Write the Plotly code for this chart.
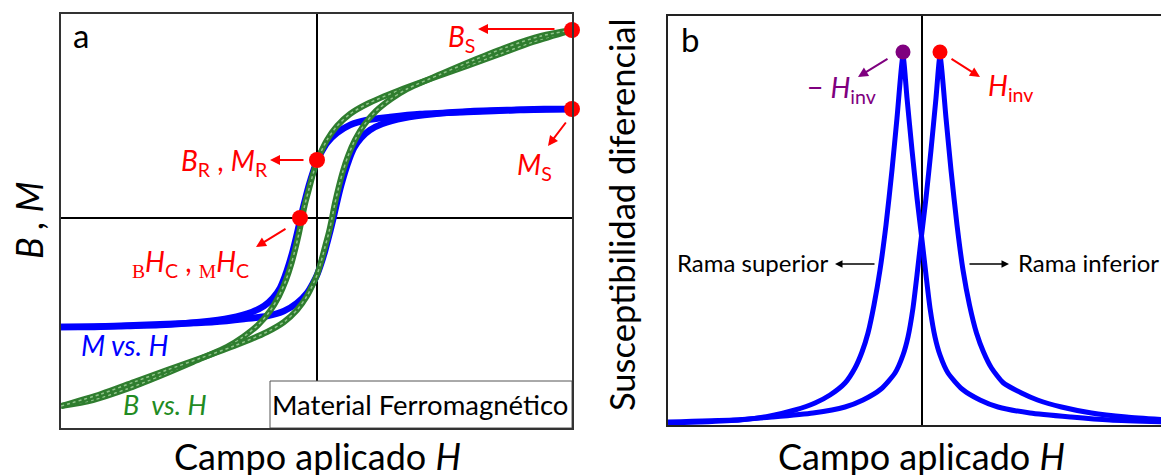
import plotly.graph_objects as go

# The page body has an 8px default margin, so the figure is 8px smaller and
# all reference pixel positions are shifted by that amount.
OFF = 8
W, H = 1169 - OFF, 475 - OFF
FONT = "Lato"

def px(xp):
    return (xp - OFF) / W

def py(yp):
    return 1 - (yp - OFF) / H

# ---------------- Panel a data (arbitrary units) ----------------
H_m_dec = [2.55, 2.03, 1.50, 1.03, 0.73, 0.50, 0.33, 0.20, 0.10, 0.04, 0.00, -0.04, -0.08, -0.12, -0.15,
           -0.18, -0.21, -0.24, -0.28, -0.32, -0.37, -0.44, -0.53, -0.65, -0.87, -1.17, -1.57, -1.90,
           -2.27, -2.56]
M_dec = [1.09, 1.08, 1.06, 1.04, 1.01, 0.98, 0.93, 0.85, 0.75, 0.65, 0.57, 0.46, 0.33, 0.18, 0.06,
         -0.07, -0.20, -0.32, -0.46, -0.58, -0.70, -0.80, -0.88, -0.94, -1.00, -1.04, -1.07, -1.08,
         -1.09, -1.09]
H_m_inc = [-2.56, -2.03, -1.50, -1.03, -0.73, -0.50, -0.33, -0.20, -0.10, -0.04, 0.00, 0.04, 0.08, 0.12, 0.15,
           0.18, 0.21, 0.24, 0.28, 0.32, 0.37, 0.44, 0.53, 0.65, 0.87, 1.17, 1.57, 1.90, 2.27, 2.55]
M_inc = [-1.09, -1.08, -1.06, -1.04, -1.01, -0.98, -0.93, -0.85, -0.75, -0.65, -0.57, -0.46, -0.33, -0.18, -0.06,
         0.07, 0.20, 0.32, 0.46, 0.58, 0.70, 0.80, 0.88, 0.94, 1.00, 1.04, 1.07, 1.08, 1.09, 1.09]

H_b_dec = [2.55, 2.16, 1.83, 1.50, 1.16, 0.83, 0.50, 0.33, 0.20, 0.10, 0.03, 0.00, -0.04, -0.08, -0.12,
           -0.15, -0.18, -0.22, -0.26, -0.31, -0.38, -0.47, -0.59, -0.74, -0.90, -1.24, -1.57, -1.90,
           -2.24, -2.56]
B_dec = [1.88, 1.76, 1.64, 1.52, 1.40, 1.28, 1.14, 1.04, 0.92, 0.78, 0.64, 0.57, 0.44, 0.29, 0.14,
         0.00, -0.15, -0.32, -0.47, -0.62, -0.78, -0.93, -1.07, -1.19, -1.29, -1.44, -1.58, -1.71,
         -1.82, -1.88]
H_b_inc = [-2.56, -2.16, -1.83, -1.50, -1.16, -0.83, -0.50, -0.33, -0.20, -0.10, -0.03, 0.00, 0.04, 0.08, 0.12,
           0.15, 0.18, 0.22, 0.26, 0.31, 0.38, 0.47, 0.59, 0.74, 0.90, 1.24, 1.57, 1.90, 2.24, 2.55]
B_inc = [-1.88, -1.76, -1.64, -1.52, -1.40, -1.28, -1.14, -1.04, -0.92, -0.78, -0.64, -0.57, -0.44, -0.29, -0.14,
         0.00, 0.15, 0.32, 0.47, 0.62, 0.78, 0.93, 1.07, 1.19, 1.29, 1.44, 1.58, 1.71, 1.82, 1.88]

# key points: B_S, M_S, B_R/M_R, H_C
key_H = [2.55, 2.55, 0.00, -0.17]
key_val = [1.88, 1.09, 0.58, 0.00]

# ---------------- Panel b data ----------------
H_sup = [-2.535, -2.215, -1.815, -1.515, -1.265, -1.065, -0.915, -0.765, -0.665, -0.595, -0.535, -0.475,
         -0.415, -0.355, -0.295, -0.245, -0.185,
         -0.145, -0.095, -0.045, 0.005, 0.045, 0.085, 0.135, 0.185, 0.265, 0.405, 0.585, 0.765, 1.085,
         1.495, 1.885, 2.475]
chi_sup = [0.02, 0.03, 0.05, 0.09, 0.15, 0.22, 0.30, 0.42, 0.57, 0.73, 0.92, 1.20,
           1.55, 2.00, 2.55, 3.07, 3.69,
           3.27, 2.75, 2.27, 1.85, 1.50, 1.17, 0.88, 0.70, 0.52, 0.36, 0.25, 0.18, 0.12,
           0.08, 0.05, 0.03]
H_inf = [-2.535, -1.885, -1.495, -1.085, -0.765, -0.585, -0.405, -0.265, -0.185, -0.135, -0.085, -0.045,
         -0.005, 0.045, 0.095, 0.145, 0.185,
         0.245, 0.295, 0.355, 0.415, 0.48, 0.55, 0.62, 0.70, 0.82, 1.00, 1.16, 1.40, 1.70, 2.05, 2.475]
chi_inf = [0.03, 0.05, 0.08, 0.12, 0.18, 0.25, 0.36, 0.52, 0.70, 0.88, 1.17, 1.50,
           1.85, 2.27, 2.75, 3.27, 3.69,
           3.07, 2.55, 2.00, 1.55, 1.20, 0.92, 0.73, 0.57, 0.42, 0.32, 0.25, 0.18, 0.12, 0.08, 0.05]

Hinv_neg, Hinv_pos = -0.185, 0.185
peak_dot = 3.73

BLUE = "#0000ff"
GREEN_D = "#2f7d2f"
GREEN_L = "#a9d8a2"
RED = "#ff0000"
PURPLE = "#7f007f"

fig = go.Figure()

# panel a curves
for hx, my in [(H_m_dec, M_dec), (H_m_inc, M_inc)]:
    fig.add_trace(go.Scatter(x=hx, y=my, mode="lines", xaxis="x", yaxis="y",
                             line=dict(color=BLUE, width=6.5, shape="spline", smoothing=0.8),
                             hoverinfo="skip"))
for hx, by in [(H_b_dec, B_dec), (H_b_inc, B_inc)]:
    fig.add_trace(go.Scatter(x=hx, y=by, mode="lines", xaxis="x", yaxis="y",
                             line=dict(color=GREEN_D, width=6, shape="spline", smoothing=0.8),
                             hoverinfo="skip"))
    fig.add_trace(go.Scatter(x=hx, y=by, mode="lines", xaxis="x", yaxis="y",
                             line=dict(color=GREEN_L, width=1.5, dash="dot", shape="spline", smoothing=0.8),
                             opacity=0.8, hoverinfo="skip"))
fig.add_trace(go.Scatter(x=key_H, y=key_val, mode="markers", xaxis="x", yaxis="y", cliponaxis=False,
                         marker=dict(color=RED, size=16), hoverinfo="skip"))

# panel b curves
for hx, cy in [(H_sup, chi_sup), (H_inf, chi_inf)]:
    fig.add_trace(go.Scatter(x=hx, y=cy, mode="lines", xaxis="x2", yaxis="y2",
                             line=dict(color=BLUE, width=5, shape="spline", smoothing=0.6),
                             hoverinfo="skip"))
fig.add_trace(go.Scatter(x=[Hinv_neg], y=[peak_dot], mode="markers", xaxis="x2", yaxis="y2", cliponaxis=False,
                         marker=dict(color=PURPLE, size=15), hoverinfo="skip"))
fig.add_trace(go.Scatter(x=[Hinv_pos], y=[peak_dot], mode="markers", xaxis="x2", yaxis="y2", cliponaxis=False,
                         marker=dict(color=RED, size=15), hoverinfo="skip"))

ax_common = dict(showgrid=False, showticklabels=False, ticks="", fixedrange=True)
fig.update_layout(
    width=W, height=H, margin=dict(l=0, r=0, t=0, b=0),
    paper_bgcolor="white", plot_bgcolor="white", showlegend=False,
    font=dict(family=FONT, color="black"),
    xaxis=dict(domain=[px(61), px(572)], range=[-2.56, 2.55], zeroline=True, zerolinecolor="black",
               zerolinewidth=1.5, showline=True, linecolor="#333", linewidth=2, mirror=True, **ax_common),
    yaxis=dict(domain=[py(428), py(14)], range=[-2.10, 2.04], zeroline=True, zerolinecolor="black",
               zerolinewidth=1.5, showline=True, linecolor="#333", linewidth=2, mirror=True, **ax_common),
    xaxis2=dict(domain=[px(668), 1.0], range=[-2.535, 2.475], zeroline=True, zerolinecolor="black",
                zerolinewidth=1.5, showline=True, linecolor="#222", linewidth=2, mirror=True, anchor="y2",
                **ax_common),
    yaxis2=dict(domain=[py(425), py(16)], range=[0, 4.09], zeroline=False, showline=True,
                linecolor="#222", linewidth=2, mirror=False, anchor="x2", **ax_common),
)

# Material box
fig.add_shape(type="rect", xref="x", yref="y", x0=-0.47, x1=2.55, y0=-2.10, y1=-1.63,
              line=dict(color="#555", width=1), fillcolor="white", layer="above")

ann = []

def txt(x, y, text, size, color="black", xref="x", yref="y", xanchor="left", yanchor="middle", angle=0,
        italic=False):
    ann.append(dict(x=x, y=y, xref=xref, yref=yref, text=text, showarrow=False, xanchor=xanchor,
                    yanchor=yanchor, textangle=angle,
                    font=dict(family=FONT, size=size, color=color, style="italic" if italic else "normal")))

def arrow(x0, y0, x1, y1, color, xref="x", yref="y", width=2, size=1.0):
    ann.append(dict(x=x1, y=y1, ax=x0, ay=y0, xref=xref, yref=yref, axref=xref, ayref=yref, text="",
                    showarrow=True, arrowhead=2, arrowsize=size, arrowwidth=width, arrowcolor=color))

# panel a texts
txt(-2.36, 1.83, "a", 33, xanchor="center")
txt(1.29, 1.80, "<i>B</i><sub>S</sub>", 28, RED)
txt(1.98, 0.52, "<i>M</i><sub>S</sub>", 28, RED)
txt(-1.38, 0.56, "<i>B</i><sub>R</sub> , <i>M</i><sub>R</sub>", 28, RED)
txt(-1.87, -0.45,
    "<sub><span style='font-family:Liberation Serif'>B</span></sub><i>H</i><sub>C</sub> , "
    "<sub><span style='font-family:Liberation Serif'>M</span></sub><i>H</i><sub>C</sub>", 28, RED)
txt(-2.38, -1.27, "M vs. H", 28, BLUE, italic=True)
txt(-1.96, -1.86, "B  vs. H", 27, "#228b22", italic=True)
txt(1.03, -1.865, "Material Ferromagnético", 27.5, xanchor="center")
arrow(2.39, 1.89, 1.61, 1.89, RED)
arrow(2.50, 0.97, 2.31, 0.72, RED)
arrow(-0.12, 0.58, -0.47, 0.58, RED)
arrow(-0.30, -0.10, -0.61, -0.29, RED)

# panel b texts
txt(-2.315, 3.86, "b", 33, xref="x2", yref="y2", xanchor="center")
txt(-1.17, 3.36, "− <i>H</i><sub>inv</sub>", 28, PURPLE, xref="x2", yref="y2")
txt(0.64, 3.38, "<i>H</i><sub>inv</sub>", 28, RED, xref="x2", yref="y2")
txt(-2.47, 1.63, "Rama superior", 24, xref="x2", yref="y2")
txt(0.945, 1.63, "Rama inferior", 24, xref="x2", yref="y2")
arrow(-0.325, 3.67, -0.635, 3.48, PURPLE, xref="x2", yref="y2")
arrow(0.285, 3.67, 0.585, 3.48, RED, xref="x2", yref="y2")
arrow(-0.455, 1.61, -0.865, 1.61, "black", xref="x2", yref="y2", width=1.5)
arrow(0.465, 1.61, 0.875, 1.61, "black", xref="x2", yref="y2", width=1.5)

# axis titles
txt(px(29), py(220), "B , M", 36, xref="paper", yref="paper", xanchor="center", yanchor="middle",
    angle=-90, italic=True)
txt(px(621), py(215), "Susceptibilidad diferencial", 34.5, xref="paper", yref="paper", xanchor="center",
    angle=-90)
txt(px(317), py(456), "Campo aplicado <i>H</i>", 36, xref="paper", yref="paper", xanchor="center")
txt(px(921), py(456), "Campo aplicado <i>H</i>", 36, xref="paper", yref="paper", xanchor="center")

fig.update_layout(annotations=ann)
fig.write_html("out.html")
